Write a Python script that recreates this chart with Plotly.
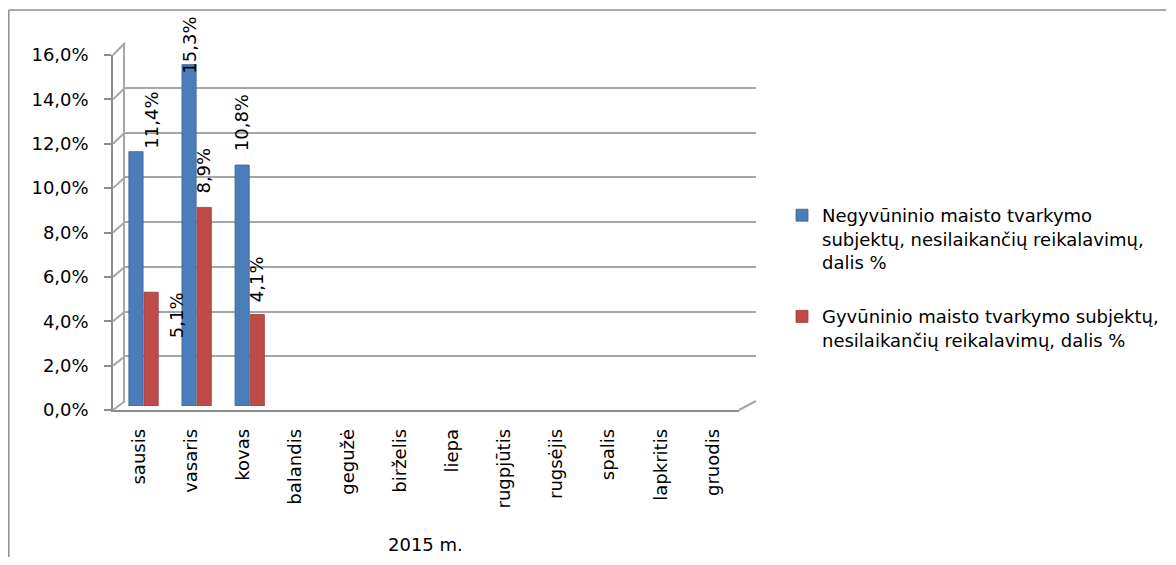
import plotly.graph_objects as go

# ---- data ----
months = ["sausis", "vasaris", "kovas", "balandis", "gegužė", "birželis",
          "liepa", "rugpjūtis", "rugsėjis", "spalis", "lapkritis", "gruodis"]
year_label = "2015 m."
series_names = [
    "Negyvūninio maisto tvarkymo<br>subjektų, nesilaikančių reikalavimų,<br>dalis %",
    "Gyvūninio maisto tvarkymo subjektų,<br>nesilaikančių reikalavimų, dalis %",
]
non_animal = [11.4, 15.3, 10.8]
animal = [5.1, 8.9, 4.1]
y_ticks = [0, 2, 4, 6, 8, 10, 12, 14, 16]
y_tick_text = [f"{v:.1f}".replace(".", ",") + "%" for v in y_ticks]

# ---- styling ----
PAGE_OFF = 8            # default body margin of the html page
W, H = 1176 - 2 * PAGE_OFF, 565 - 2 * PAGE_OFF
FONT = "DejaVu Sans"
colors = ["#4A7EBB", "#BE4B48"]
line_colors = ["#3B6596", "#973C3A"]
grid_col = "#A6A6A6"
axis_col = "#8C8C8C"
# label offsets (px) per series per point
lab_dx = [[8.5, -8, -8.5], [32.5, 6.5, 6.5]]
lab_dy = [[31, 19.6, 42], [-23, 37, 35.5]]


def fx(px):
    return (px - PAGE_OFF) / W


def fy(py):
    return 1 - (py - PAGE_OFF) / H


front_x = (113, 739)
front_y = (410, 55)
back_x = (125, 756)
back_y = (401, 43)
mid_x = (117, 754)
mid_y = (406, 49)
ymax = y_ticks[-1]

fig = go.Figure()

# invisible trace for the front category axis
fig.add_trace(go.Scatter(x=months, y=[None] * len(months), xaxis="x", yaxis="y",
                         showlegend=False, hoverinfo="skip", mode="markers"))
# invisible trace on back wall
fig.add_trace(go.Scatter(x=[0], y=[None], xaxis="x2", yaxis="y2",
                         showlegend=False, hoverinfo="skip", mode="markers"))

for i, (vals, name) in enumerate(zip([non_animal, animal], series_names)):
    fig.add_trace(go.Bar(
        x=months[:len(vals)], y=vals, name=name, xaxis="x3", yaxis="y3",
        marker=dict(color=colors[i], line=dict(color=line_colors[i], width=0.8)),
        legendgroup=f"g{i}",
    ))

annotations = []
for i, vals in enumerate([non_animal, animal]):
    for j, v in enumerate(vals):
        annotations.append(dict(
            x=months[j], y=v, xref="x3", yref="y3",
            text=f"{v:.1f}".replace(".", ",") + "%",
            textangle=-90, showarrow=False,
            xanchor="center", yanchor="middle",
            xshift=lab_dx[i][j], yshift=lab_dy[i][j],
            font=dict(family=FONT, size=18, color="#000"),
        ))
annotations.append(dict(
    x=0.5, xref="x domain", y=fy(544), yref="paper", text=year_label,
    showarrow=False, xanchor="center", yanchor="middle",
    font=dict(family=FONT, size=18, color="#000")))

shapes = []
# outer border (top and left edges)
shapes.append(dict(type="line", xref="paper", yref="paper",
                   x0=fx(8.8), y0=fy(10), x1=fx(1166), y1=fy(10),
                   line=dict(color="#8C8C8C", width=1.5)))
shapes.append(dict(type="line", xref="paper", yref="paper",
                   x0=fx(8.8), y0=fy(10), x1=fx(8.8), y1=0,
                   line=dict(color="#8C8C8C", width=1.5)))
# left side wall ledges
for v in y_ticks:
    yf = front_y[0] + (front_y[1] - front_y[0]) * v / ymax
    yb = back_y[0] + (back_y[1] - back_y[0]) * v / ymax
    shapes.append(dict(type="line", xref="paper", yref="paper",
                       x0=fx(front_x[0]), y0=fy(yf), x1=fx(back_x[0]), y1=fy(yb),
                       line=dict(color=grid_col, width=2)))
# right floor edge
shapes.append(dict(type="line", xref="paper", yref="paper",
                   x0=fx(front_x[1]), y0=fy(front_y[0]), x1=fx(back_x[1]), y1=fy(back_y[0]),
                   line=dict(color=grid_col, width=2)))

n = len(months)
fig.update_layout(
    template="none",
    width=W, height=H,
    margin=dict(l=0, r=0, t=0, b=0, pad=0, autoexpand=False),
    paper_bgcolor="white", plot_bgcolor="rgba(0,0,0,0)",
    separators=", ",
    font=dict(family=FONT, size=18, color="#000"),
    barmode="group", bargap=0.43, bargroupgap=0.06,
    showlegend=True,
    legend=dict(x=fx(782), y=fy(197), xanchor="left", yanchor="top",
                font=dict(family=FONT, size=18, color="#000"),
                tracegroupgap=28, itemwidth=30, bgcolor="rgba(0,0,0,0)",
                borderwidth=0, valign="top"),
    annotations=annotations,
    shapes=shapes,
    # front axes (labels)
    xaxis=dict(domain=[fx(front_x[0]), fx(front_x[1])], anchor="y",
               type="category", categoryarray=months, categoryorder="array",
               range=[-0.5, n - 0.5], tickangle=-90, ticks="",
               showline=True, linecolor=axis_col, linewidth=1.5,
               showgrid=False, zeroline=False, ticklabelstandoff=10,
               automargin=False,
               tickfont=dict(family=FONT, size=18, color="#000")),
    yaxis=dict(domain=[fy(front_y[0]), fy(front_y[1])], anchor="x",
               range=[0, ymax], tickmode="array", tickvals=y_ticks, ticktext=y_tick_text,
               ticks="outside", ticklen=7, tickcolor=axis_col, tickwidth=1.5,
               showline=True, linecolor=axis_col, linewidth=1.5,
               showgrid=False, zeroline=False, ticklabelstandoff=12,
               automargin=False,
               tickfont=dict(family=FONT, size=18, color="#000")),
    # back wall
    xaxis2=dict(domain=[fx(back_x[0]), fx(back_x[1])], anchor="y2", range=[0, 1],
                visible=False, automargin=False),
    yaxis2=dict(domain=[fy(back_y[0]), fy(back_y[1])], anchor="x2",
                range=[0, ymax], tickvals=y_ticks, showticklabels=False,
                showgrid=True, gridcolor=grid_col, gridwidth=2,
                showline=True, linecolor=grid_col, linewidth=1.5,
                zeroline=False, ticks="", automargin=False),
    # mid-depth (bars)
    xaxis3=dict(domain=[fx(mid_x[0]), fx(mid_x[1])], anchor="y3",
                type="category", categoryarray=months, categoryorder="array",
                range=[-0.5, n - 0.5], visible=False, automargin=False),
    yaxis3=dict(domain=[fy(mid_y[0]), fy(mid_y[1])], anchor="x3",
                range=[0, ymax], visible=False, automargin=False),
    # dividers
    xaxis4=dict(overlaying="x", anchor="y", range=[-0.5, n - 0.5],
                tickmode="array", tickvals=[k - 0.5 for k in range(1, n)],
                ticks="outside", ticklen=100, tickcolor=axis_col, tickwidth=1.5,
                showticklabels=False, showgrid=False, zeroline=False, showline=False,
                automargin=False),
    xaxis5=dict(overlaying="x", anchor="y", range=[-0.5, n - 0.5],
                tickmode="array", tickvals=[-0.5, n - 0.5],
                ticks="outside", ticklen=145, tickcolor=axis_col, tickwidth=1.5,
                showticklabels=False, showgrid=False, zeroline=False, showline=False,
                automargin=False),
)

fig.write_html("out.html")
